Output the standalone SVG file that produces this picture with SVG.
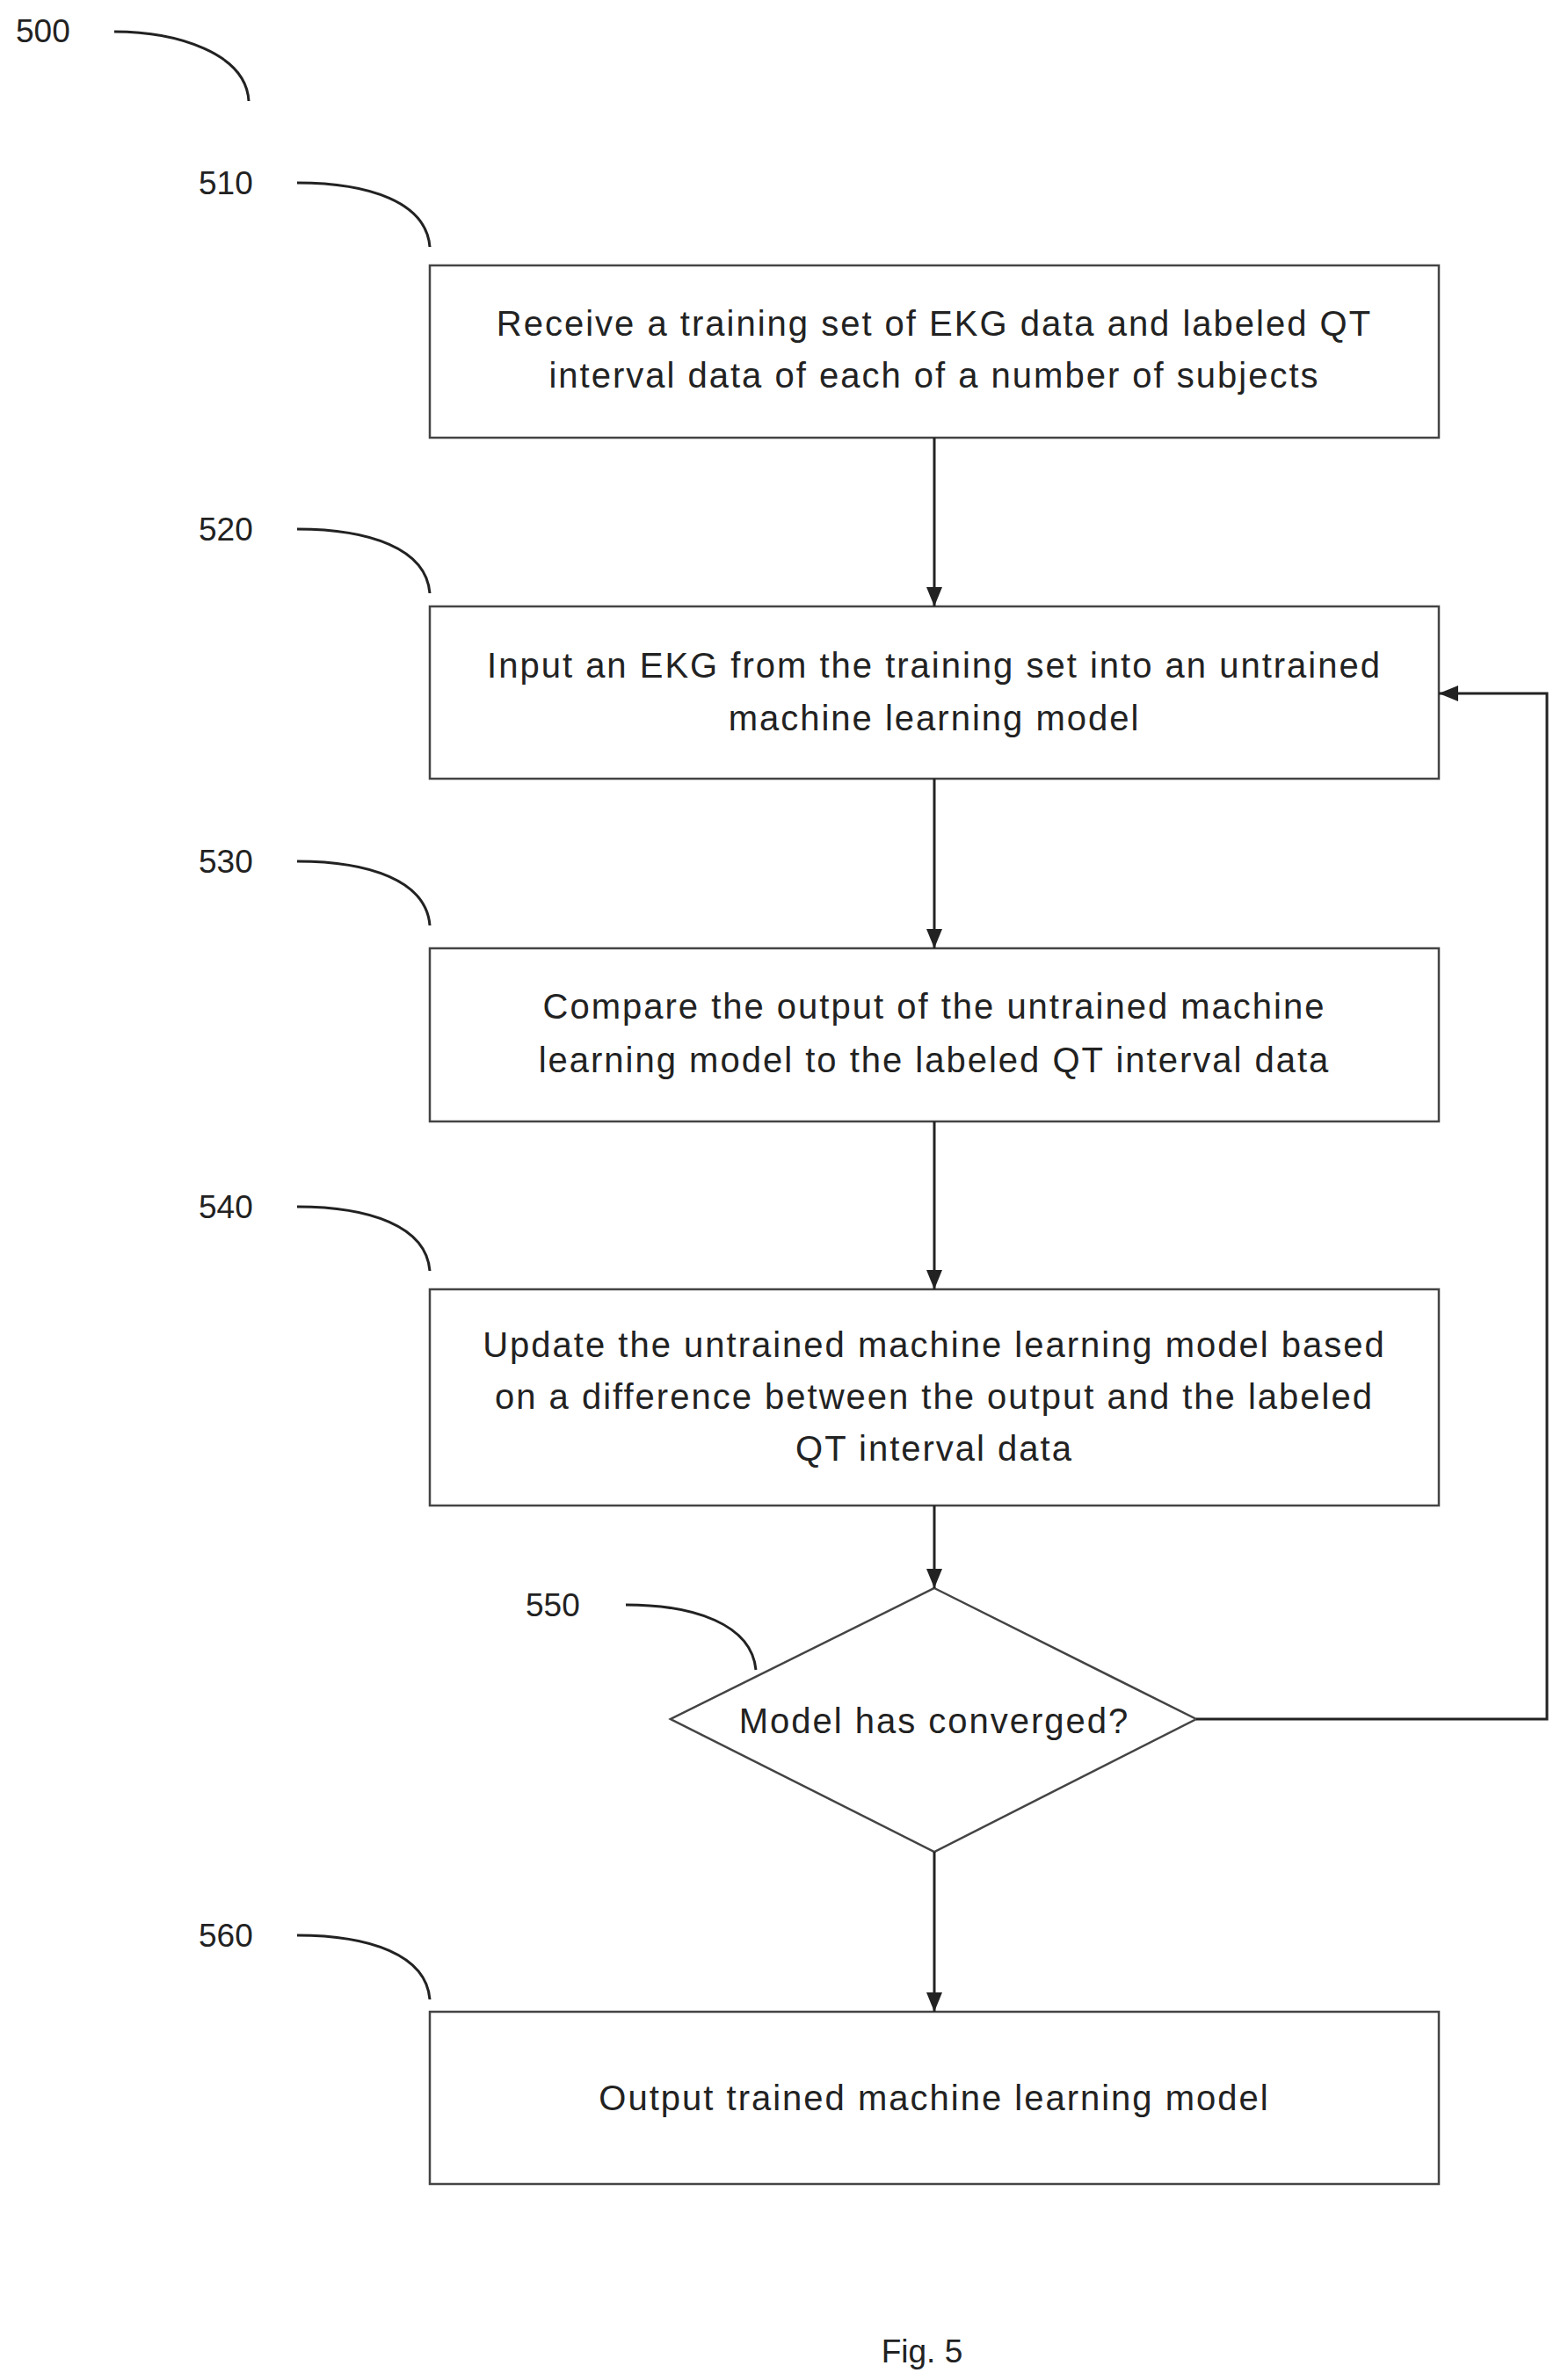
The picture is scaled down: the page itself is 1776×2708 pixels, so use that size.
<svg xmlns="http://www.w3.org/2000/svg" width="1776" height="2708" viewBox="0 0 1776 2708">
<style>
text{font-family:"Liberation Sans",Arial,sans-serif;font-size:37px;fill:#222}
.t{text-anchor:middle;font-size:40px;letter-spacing:2px}
.b{fill:#fff;stroke:#444;stroke-width:2.5}
.c{fill:none;stroke:#222;stroke-width:3}
.l{fill:none;stroke:#222;stroke-width:3}
</style>
<defs>
<marker id="ah" markerWidth="24" markerHeight="24" refX="22" refY="12" orient="auto" markerUnits="userSpaceOnUse"><path d="M0,3 L22,12 L0,21 z" fill="#222"/></marker></defs>
<rect width="1776" height="2708" fill="#fff"/>
<g id="refs">
<text x="18" y="48">500</text><path class="c" d="M130,36 C200,36 280,60 283,115"/>
<text x="226" y="221">510</text><path class="c" d="M338,208 C420,208 485,230 489,281"/>
<text x="226" y="615">520</text><path class="c" d="M338,602 C420,602 485,624 489,675"/>
<text x="226" y="993">530</text><path class="c" d="M338,980 C420,980 485,1002 489,1053"/>
<text x="226" y="1386">540</text><path class="c" d="M338,1373 C420,1373 485,1395 489,1446"/>
<text x="598" y="1839">550</text><path class="c" d="M712,1826 C790,1826 855,1848 860,1900"/>
<text x="226" y="2215">560</text><path class="c" d="M338,2202 C420,2202 485,2224 489,2275"/>
</g>
<g id="n510"><rect class="b" x="489" y="302" width="1148" height="196"/><text class="t" x="1063" y="382">Receive a training set of EKG data and labeled QT</text><text class="t" x="1063" y="441">interval data of each of a number of subjects</text></g>
<g id="n520"><rect class="b" x="489" y="690" width="1148" height="196"/><text class="t" x="1063" y="771">Input an EKG from the training set into an untrained</text><text class="t" x="1063" y="831">machine learning model</text></g>
<g id="n530"><rect class="b" x="489" y="1079" width="1148" height="197"/><text class="t" x="1063" y="1159">Compare the output of the untrained machine</text><text class="t" x="1063" y="1220">learning model to the labeled QT interval data</text></g>
<g id="n540"><rect class="b" x="489" y="1467" width="1148" height="246"/><text class="t" x="1063" y="1544">Update the untrained machine learning model based</text><text class="t" x="1063" y="1603">on a difference between the output and the labeled</text><text class="t" x="1063" y="1662">QT interval data</text></g>
<g id="n550"><polygon class="b" points="1063,1807 1361,1956 1063,2107 763,1956"/><text class="t" x="1063" y="1972">Model has converged?</text></g>
<g id="n560"><rect class="b" x="489" y="2289" width="1148" height="196"/><text class="t" x="1063" y="2401">Output trained machine learning model</text></g>
<g id="connectors">
<line class="l" x1="1063" y1="498" x2="1063" y2="690" marker-end="url(#ah)"/>
<line class="l" x1="1063" y1="886" x2="1063" y2="1079" marker-end="url(#ah)"/>
<line class="l" x1="1063" y1="1276" x2="1063" y2="1467" marker-end="url(#ah)"/>
<line class="l" x1="1063" y1="1713" x2="1063" y2="1807" marker-end="url(#ah)"/>
<line class="l" x1="1063" y1="2107" x2="1063" y2="2289" marker-end="url(#ah)"/>
<polyline class="l" points="1361,1956 1760,1956 1760,789 1637,789" marker-end="url(#ah)"/>
</g>
<text x="1049" y="2688" style="text-anchor:middle">Fig. 5</text>
</svg>
